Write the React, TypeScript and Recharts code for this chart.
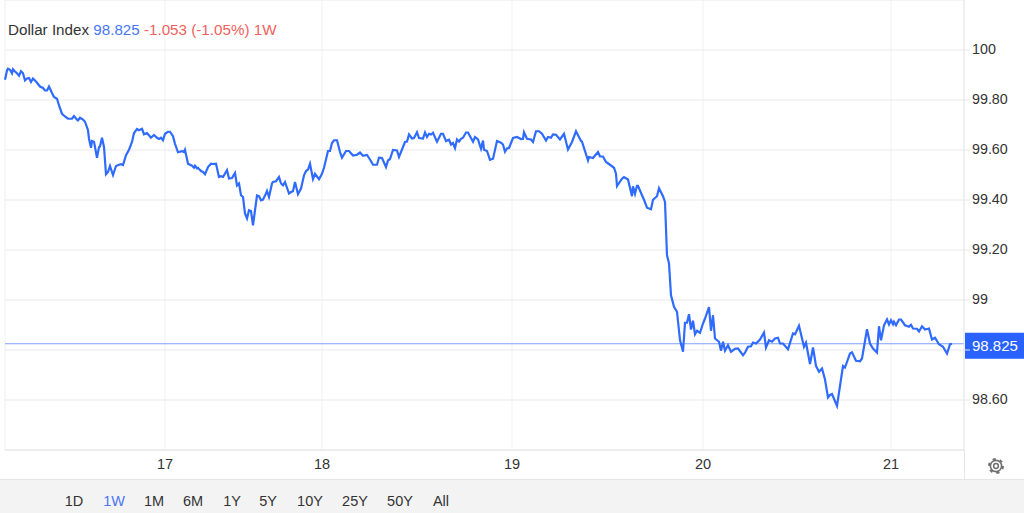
import React from "react";
import { LineChart, Line, XAxis, YAxis, CartesianGrid, ReferenceLine } from "recharts";

// [session position, index value]
const day16 = [[0,99.881],[2,99.918],[3,99.925],[5,99.921],[7,99.907],[8,99.923],[10,99.914],[12,99.907],[14,99.897],[16,99.915],[18,99.907],[20,99.878],[22,99.886],[24,99.888],[26,99.872],[28,99.886],[30,99.878],[32,99.869],[35,99.854],[38,99.848],[40,99.838],[42,99.838],[44,99.854],[47,99.828],[49,99.812],[52,99.805],[54,99.778],[57,99.745],[60,99.734],[63,99.725],[67,99.725],[69,99.736],[72,99.721],[73,99.718],[75,99.729],[78,99.722],[80,99.713],[83,99.679],[84,99.645],[86,99.609],[87,99.636],[89,99.633],[92,99.569],[94,99.612],[95,99.615],[97,99.649],[99,99.612],[101,99.503],[103,99.512],[105,99.536],[108,99.5],[111,99.536],[114,99.541],[116,99.543],[118,99.54],[121,99.579],[124,99.601],[127,99.632],[129,99.668],[132,99.684],[134,99.679],[137,99.685],[139,99.663],[142,99.668],[146,99.649],[149,99.66],[152,99.649],[154,99.644],[156,99.649],[158,99.639]];
const day17 = [[160,99.665],[163,99.673],[165,99.673],[168,99.655],[170,99.625],[173,99.591],[177,99.595],[179,99.592],[180,99.601],[183,99.545],[187,99.537],[189,99.529],[190,99.537],[192,99.527],[193,99.529],[196,99.516],[198,99.512],[200,99.503],[203,99.532],[206,99.545],[208,99.544],[211,99.545],[214,99.492],[216,99.495],[218,99.492],[222,99.519],[224,99.486],[227,99.488],[230,99.508],[232,99.458],[234,99.466],[236,99.419],[238,99.412],[240,99.346],[242,99.326],[244,99.359],[246,99.356],[248,99.299],[250,99.359],[252,99.418],[254,99.415],[256,99.399],[258,99.402],[261,99.426],[262,99.436],[264,99.412],[267,99.466],[268,99.472],[271,99.475],[274,99.492],[276,99.466],[278,99.459],[280,99.472],[284,99.426],[286,99.432],[288,99.435],[290,99.472],[293,99.423],[296,99.446],[299,99.499],[301,99.516],[303,99.522],[305,99.545],[308,99.484],[310,99.505],[314,99.483]];
const day18 = [[317,99.505],[319,99.529],[322,99.579],[323,99.596],[325,99.596],[327,99.628],[329,99.639],[332,99.639],[335,99.592],[337,99.569],[341,99.596],[344,99.596],[348,99.578],[352,99.581],[355,99.59],[358,99.577],[362,99.58],[365,99.562],[368,99.541],[372,99.541],[374,99.569],[377,99.568],[381,99.532],[383,99.558],[385,99.564],[388,99.6],[392,99.598],[394,99.572],[400,99.632],[402,99.634],[404,99.662],[407,99.646],[409,99.648],[412,99.671],[414,99.648],[418,99.646],[420,99.67],[422,99.652],[424,99.665],[426,99.662],[428,99.669],[432,99.633],[436,99.665],[438,99.665],[441,99.636],[444,99.641],[446,99.622],[448,99.628],[450,99.608],[452,99.642],[454,99.634],[456,99.645],[458,99.649],[461,99.67],[463,99.67],[468,99.633],[470,99.652],[473,99.642],[476,99.605],[478,99.638],[479,99.601],[482,99.596],[485,99.561],[488,99.565],[492,99.636],[496,99.629],[498,99.622],[500,99.593],[502,99.606],[504,99.608]];
const day19 = [[508,99.648],[512,99.652],[516,99.644],[518,99.645],[519,99.671],[522,99.645],[526,99.642],[528,99.632],[531,99.675],[534,99.675],[537,99.665],[541,99.638],[543,99.652],[546,99.649],[548,99.662],[551,99.661],[555,99.642],[559,99.665],[563,99.602],[567,99.632],[571,99.675],[576,99.636],[577,99.633],[583,99.558],[584,99.572],[588,99.568],[593,99.592],[595,99.574],[598,99.574],[601,99.552],[605,99.541],[609,99.529],[611,99.505],[612,99.456],[617,99.485],[619,99.492],[623,99.482],[627,99.415],[628,99.455],[630,99.425],[632,99.457],[633,99.457],[637,99.419],[639,99.401],[642,99.369],[646,99.363],[648,99.401],[652,99.415],[654,99.447],[658,99.415],[660,99.392],[662,99.179],[664,99.146],[666,99.019],[669,98.973],[672,98.953],[675,98.84],[678,98.793],[680,98.909],[682,98.909],[684,98.943],[686,98.882],[688,98.917],[690,98.863],[692,98.877],[695,98.869]];
const day20 = [[698,98.906],[700,98.926],[704,98.972],[706,98.877],[708,98.939],[710,98.846],[714,98.833],[716,98.797],[718,98.833],[720,98.797],[723,98.819],[726,98.793],[730,98.805],[733,98.806],[738,98.779],[740,98.789],[743,98.813],[746,98.815],[748,98.83],[751,98.826],[755,98.842],[759,98.87],[761,98.81],[764,98.839],[767,98.833],[770,98.846],[773,98.849],[775,98.826],[778,98.826],[783,98.803],[788,98.866],[790,98.863],[794,98.897],[799,98.813],[801,98.829],[805,98.744],[808,98.81],[811,98.736],[814,98.713],[817,98.726],[820,98.682],[823,98.61],[825,98.62],[827,98.624],[832,98.576],[838,98.736],[840,98.73],[845,98.786],[847,98.791],[851,98.757],[855,98.755],[857,98.766],[862,98.883],[865,98.826],[868,98.806],[872,98.79],[874,98.895],[876,98.839],[879,98.899],[882,98.922],[884,98.902]];
const day21 = [[886,98.919],[888,98.903],[889,98.913],[891,98.899],[894,98.922],[896,98.922],[900,98.899],[904,98.893],[906,98.901],[908,98.886],[912,98.885],[914,98.874],[917,98.895],[920,98.882],[924,98.886],[927,98.842],[930,98.849],[934,98.823],[938,98.813],[942,98.786],[945,98.823],[947,98.825]];

const dayPositions = [160, 317, 507, 698, 886];
const dayLabels = ["17", "18", "19", "20", "21"];
const priceTicks = [98.6, 98.8, 99, 99.2, 99.4, 99.6, 99.8, 100];
const ranges = ["1D", "1W", "1M", "6M", "1Y", "5Y", "10Y", "25Y", "50Y", "All"];
const rangeCentres = [74, 114, 154, 193, 232, 268, 310, 355, 400, 441];
const lastPrice = 98.825;

const chartData = [...day16, ...day17, ...day18, ...day19, ...day20, ...day21].map(([t, price]) => ({ t, price }));

const FONT = '"Liberation Sans", Arial, sans-serif';
const BLUE = "#2f6bff";

const formatPrice = (v: number) => {
  if (v === 98.8) return "";
  if (v === 100) return "100";
  if (v === 99) return "99";
  return v.toFixed(2);
};

const PriceTag = (props: any) => {
  const y = props.viewBox.y;
  return (
    <g>
      <rect x={965} y={y - 11} width={59} height={26} fill="#2962ff" />
      <text x={972} y={y + 7} fontSize={15} fill="#ffffff" fontFamily={FONT}>{lastPrice.toFixed(3)}</text>
    </g>
  );
};

export default function App() {
  return (
    <div style={{ position: "absolute", left: 0, top: 0, width: 1024, height: 513, overflow: "hidden", background: "#fff", fontFamily: FONT }}>
      <div style={{ position: "absolute", left: 0, top: 479, width: 1024, height: 34, background: "#f3f3f3", borderTop: "1px solid #e6e6e6", boxSizing: "border-box" }} />
      <div style={{ position: "absolute", left: 964, top: 450, width: 1, height: 29, background: "#e6e6e6" }} />
      <div style={{ position: "absolute", top: -0.5 }}>
        <LineChart width={1024} height={513} data={chartData} margin={{ top: 0, right: 0, bottom: 0, left: 5 }}>
          <CartesianGrid horizontal={false} vertical stroke="#eff3f3" />
          <CartesianGrid horizontal vertical={false} stroke="#e9e9e9" />
          <XAxis
            dataKey="t"
            type="number"
            domain={[0, 959]}
            ticks={dayPositions}
            tickFormatter={(v: number) => dayLabels[dayPositions.indexOf(v)]}
            height={63}
            tickLine={false}
            axisLine={{ stroke: "#e6e6e6" }}
            tick={{ fill: "#333333", fontSize: 14.5, fontFamily: FONT }}
            tickMargin={3}
          />
          <YAxis
            orientation="right"
            type="number"
            domain={[98.4, 100.2]}
            ticks={priceTicks}
            interval={0}
            tickFormatter={formatPrice}
            width={60}
            tickSize={6}
            tickLine={{ stroke: "#e6e6e6" }}
            axisLine={{ stroke: "#e6e6e6" }}
            tick={{ fill: "#333333", fontSize: 14.3, fontFamily: FONT, textAnchor: "start", dy: -1 }}
            tickMargin={2}
          />
          <ReferenceLine y={lastPrice} stroke="#7ea0ff" strokeWidth={1} label={<PriceTag />} />
          <Line dataKey="price" type="linear" stroke={BLUE} strokeWidth={2.2} dot={false} isAnimationActive={false} />
        </LineChart>
      </div>
      <div style={{ position: "absolute", left: 8, top: 21, fontSize: 15.2, lineHeight: "18px", whiteSpace: "pre", color: "#333" }}>
        Dollar Index <span style={{ color: "#4a76f5" }}>98.825</span> <span style={{ color: "#f25f5c" }}>-1.053 (-1.05%) 1W</span>
      </div>
      {ranges.map((r, i) => (
        <div key={r} style={{ position: "absolute", left: rangeCentres[i] - 30, width: 60, top: 492, fontSize: 14.5, lineHeight: "18px", textAlign: "center", color: r === "1W" ? "#4a76f5" : "#333" }}>{r}</div>
      ))}
      <svg style={{ position: "absolute", left: 987, top: 457 }} width={18} height={18} viewBox="0 0 18 18">
        <circle cx={9} cy={9} r={5.6} fill="none" stroke="#707070" strokeWidth={1.6} />
        <circle cx={9} cy={9} r={7} fill="none" stroke="#707070" strokeWidth={2} strokeDasharray="3.2 4.13" />
        <circle cx={9} cy={9} r={2.4} fill="none" stroke="#707070" strokeWidth={1.5} />
      </svg>
    </div>
  );
}
